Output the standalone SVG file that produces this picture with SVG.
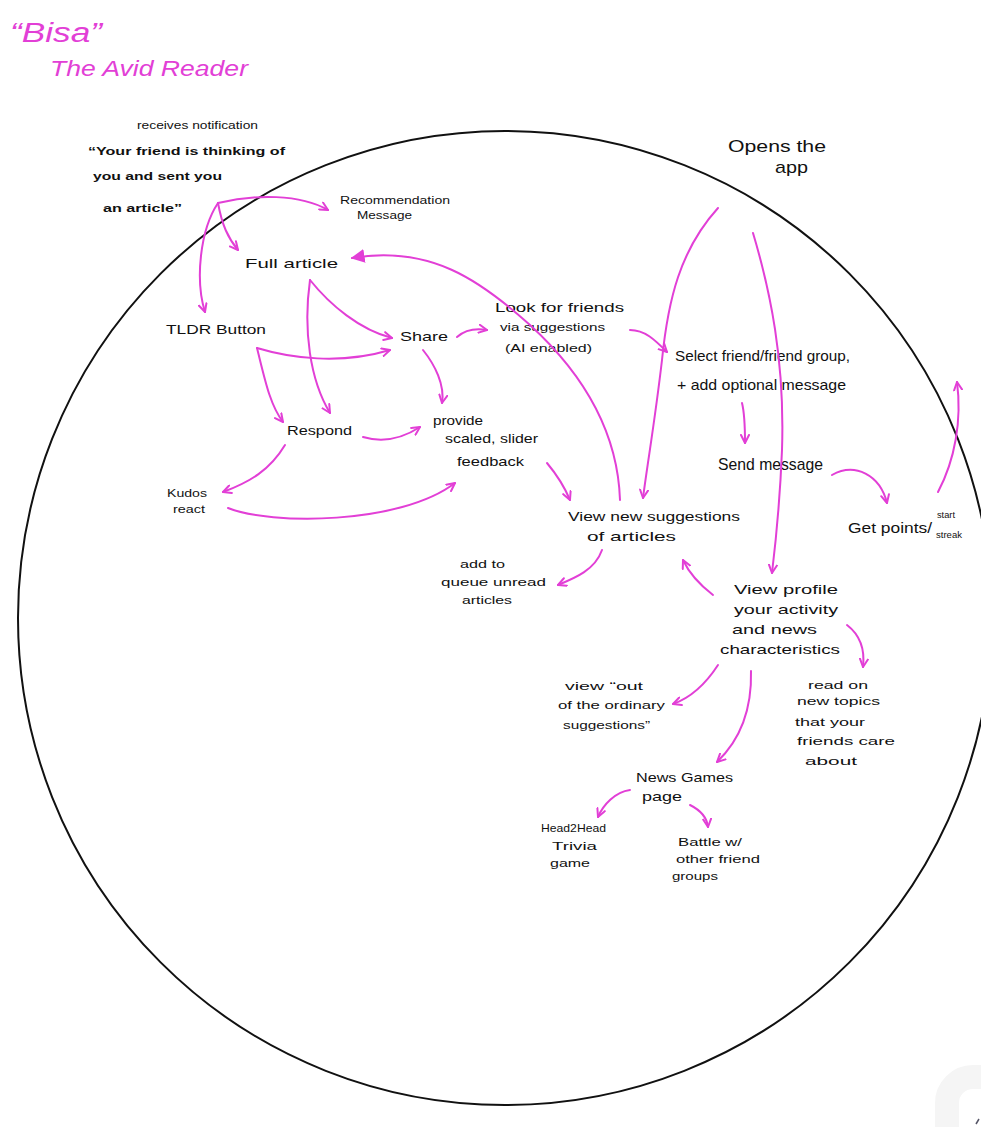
<svg xmlns="http://www.w3.org/2000/svg" width="981" height="1127" viewBox="0 0 981 1127">
<style>
text{font-family:"Liberation Sans","DejaVu Sans",sans-serif;fill:#111;}
.t{font-size:13px;}
.s{font-size:11px;}
.xs{font-size:9px;}
.m{font-size:15px;}
.l{font-size:17px;}
.pk{fill:#e23fd6;font-style:italic;}
.c path{fill:none;stroke:#e23fd6;stroke-width:2;stroke-linecap:round;marker-end:url(#a);}
.c path.big{marker-end:url(#f);}
</style>
<defs>
<marker id="a" viewBox="0 0 10 10" refX="9" refY="5" markerWidth="5" markerHeight="5" orient="auto" markerUnits="strokeWidth">
<path d="M1,1 L9,5 L1,9" fill="none" stroke="#e23fd6" stroke-width="2" stroke-linecap="round" stroke-linejoin="round"/>
</marker>
<marker id="f" viewBox="0 0 10 10" refX="9" refY="5" markerWidth="7" markerHeight="7" orient="auto" markerUnits="strokeWidth">
<path d="M0,0 L10,5 L0,10 Z" fill="#e23fd6"/>
</marker>
</defs>
<rect width="981" height="1127" fill="#fff"/>
<ellipse id="circle" cx="505" cy="618" rx="487" ry="487" fill="none" stroke="#111" stroke-width="2"/>
<rect x="947" y="1077" width="90" height="90" rx="26" fill="#fff" stroke="#f5f5f5" stroke-width="24"/>
<path d="M976,1124 L979,1119" stroke="#556" stroke-width="1.5" fill="none"/>
<g id="title">
<text class="pk" x="10" y="42" font-size="27" textLength="92" lengthAdjust="spacingAndGlyphs">“Bisa”</text>
<text class="pk" x="50" y="76" font-size="22" textLength="198" lengthAdjust="spacingAndGlyphs">The Avid Reader</text>
</g>
<g id="notification">
<text class="s" x="137" y="129" textLength="121" lengthAdjust="spacingAndGlyphs">receives notification</text>
<text class="s" x="88" y="155" font-weight="bold" textLength="197" lengthAdjust="spacingAndGlyphs">“Your friend is thinking of</text>
<text class="s" x="93" y="180" font-weight="bold" textLength="129" lengthAdjust="spacingAndGlyphs">you and sent you</text>
<text class="s" x="103" y="212" font-weight="bold" textLength="79" lengthAdjust="spacingAndGlyphs">an article”</text>
</g>
<g id="recommendation">
<text class="s" x="340" y="204" textLength="110" lengthAdjust="spacingAndGlyphs">Recommendation</text>
<text class="s" x="357" y="219" textLength="55" lengthAdjust="spacingAndGlyphs">Message</text>
</g>
<g id="full-article"><text class="t" x="245" y="268" textLength="93" lengthAdjust="spacingAndGlyphs">Full article</text></g>
<g id="tldr"><text class="t" x="166" y="334" textLength="100" lengthAdjust="spacingAndGlyphs">TLDR Button</text></g>
<g id="share"><text class="t" x="400" y="341" textLength="48" lengthAdjust="spacingAndGlyphs">Share</text></g>
<g id="look-friends">
<text class="t" x="495" y="312" textLength="129" lengthAdjust="spacingAndGlyphs">Look for friends</text>
<text class="s" x="500" y="331" textLength="105" lengthAdjust="spacingAndGlyphs">via suggestions</text>
<text class="s" x="505" y="352" textLength="87" lengthAdjust="spacingAndGlyphs">(AI enabled)</text>
</g>
<g id="respond"><text class="t" x="287" y="435" textLength="65" lengthAdjust="spacingAndGlyphs">Respond</text></g>
<g id="provide">
<text class="t" x="433" y="425" textLength="50" lengthAdjust="spacingAndGlyphs">provide</text>
<text class="t" x="445" y="443" textLength="93" lengthAdjust="spacingAndGlyphs">scaled, slider</text>
<text class="t" x="457" y="466" textLength="67" lengthAdjust="spacingAndGlyphs">feedback</text>
</g>
<g id="kudos">
<text class="s" x="167" y="497" textLength="40" lengthAdjust="spacingAndGlyphs">Kudos</text>
<text class="s" x="173" y="513" textLength="32" lengthAdjust="spacingAndGlyphs">react</text>
</g>
<g id="opens-app">
<text class="l" x="728" y="152" textLength="98" lengthAdjust="spacingAndGlyphs">Opens the</text>
<text class="l" x="775" y="173" textLength="33" lengthAdjust="spacingAndGlyphs">app</text>
</g>
<g id="select-friend">
<text class="m" x="675" y="361" textLength="175" lengthAdjust="spacingAndGlyphs">Select friend/friend group,</text>
<text class="m" x="677" y="390" textLength="169" lengthAdjust="spacingAndGlyphs">+ add optional message</text>
</g>
<g id="send-message"><text class="l" x="718" y="470" textLength="105" lengthAdjust="spacingAndGlyphs">Send message</text></g>
<g id="get-points">
<text class="m" x="848" y="533" textLength="84" lengthAdjust="spacingAndGlyphs">Get points/</text>
<text class="xs" x="937" y="518" textLength="18" lengthAdjust="spacingAndGlyphs">start</text>
<text class="xs" x="936" y="538" textLength="26" lengthAdjust="spacingAndGlyphs">streak</text>
</g>
<g id="view-suggestions">
<text class="t" x="568" y="521" textLength="172" lengthAdjust="spacingAndGlyphs">View new suggestions</text>
<text class="t" x="587" y="541" textLength="89" lengthAdjust="spacingAndGlyphs">of articles</text>
</g>
<g id="queue">
<text class="s" x="460" y="568" textLength="45" lengthAdjust="spacingAndGlyphs">add to</text>
<text class="s" x="441" y="586" textLength="105" lengthAdjust="spacingAndGlyphs">queue unread</text>
<text class="s" x="462" y="604" textLength="50" lengthAdjust="spacingAndGlyphs">articles</text>
</g>
<g id="view-profile">
<text class="t" x="734" y="594" textLength="104" lengthAdjust="spacingAndGlyphs">View profile</text>
<text class="t" x="734" y="614" textLength="104" lengthAdjust="spacingAndGlyphs">your activity</text>
<text class="t" x="732" y="634" textLength="85" lengthAdjust="spacingAndGlyphs">and news</text>
<text class="t" x="720" y="654" textLength="120" lengthAdjust="spacingAndGlyphs">characteristics</text>
</g>
<g id="out-of-ordinary">
<text class="s" x="565" y="690" textLength="78" lengthAdjust="spacingAndGlyphs">view “out</text>
<text class="s" x="558" y="709" textLength="107" lengthAdjust="spacingAndGlyphs">of the ordinary</text>
<text class="s" x="563" y="729" textLength="87" lengthAdjust="spacingAndGlyphs">suggestions”</text>
</g>
<g id="read-on">
<text class="s" x="808" y="689" textLength="60" lengthAdjust="spacingAndGlyphs">read on</text>
<text class="s" x="797" y="705" textLength="83" lengthAdjust="spacingAndGlyphs">new topics</text>
<text class="s" x="795" y="726" textLength="70" lengthAdjust="spacingAndGlyphs">that your</text>
<text class="s" x="797" y="745" textLength="98" lengthAdjust="spacingAndGlyphs">friends care</text>
<text class="s" x="805" y="765" textLength="52" lengthAdjust="spacingAndGlyphs">about</text>
</g>
<g id="news-games">
<text class="t" x="636" y="782" textLength="97" lengthAdjust="spacingAndGlyphs">News Games</text>
<text class="t" x="642" y="801" textLength="40" lengthAdjust="spacingAndGlyphs">page</text>
</g>
<g id="head2head">
<text class="s" x="541" y="832" textLength="65" lengthAdjust="spacingAndGlyphs">Head2Head</text>
<text class="s" x="552" y="850" textLength="45" lengthAdjust="spacingAndGlyphs">Trivia</text>
<text class="s" x="550" y="867" textLength="40" lengthAdjust="spacingAndGlyphs">game</text>
</g>
<g id="battle">
<text class="s" x="678" y="846" textLength="64" lengthAdjust="spacingAndGlyphs">Battle w/</text>
<text class="s" x="676" y="863" textLength="84" lengthAdjust="spacingAndGlyphs">other friend</text>
<text class="s" x="672" y="880" textLength="46" lengthAdjust="spacingAndGlyphs">groups</text>
</g>
<g id="connectors" class="c">
<path d="M218,203 C255,194 300,194 328,210"/>
<path d="M218,203 C222,225 228,238 238,250"/>
<path d="M218,203 C200,230 195,280 205,312"/>
<path class="big" d="M620,500 C618,440 590,380 530,325 C480,280 430,245 352,258"/>
<path d="M310,280 C330,305 360,330 392,338"/>
<path d="M310,280 C303,330 310,380 330,413"/>
<path d="M257,348 C290,358 340,365 390,350"/>
<path d="M257,348 C265,380 270,405 283,422"/>
<path d="M457,337 C465,330 475,328 487,330"/>
<path d="M423,350 C435,365 445,385 442,403"/>
<path d="M363,437 C380,442 400,440 420,427"/>
<path d="M285,445 C270,470 250,482 223,492"/>
<path d="M228,508 C270,525 400,525 455,483"/>
<path d="M547,463 C557,475 565,488 570,500"/>
<path d="M630,330 C645,330 655,340 667,352"/>
<path d="M718,208 C680,250 668,300 662,360 C655,420 648,460 643,498"/>
<path d="M753,233 C770,290 785,360 782,450 C780,500 776,540 772,573"/>
<path d="M742,403 C745,415 745,430 745,443"/>
<path d="M832,475 C855,462 880,475 887,503"/>
<path d="M938,492 C955,460 962,420 957,382"/>
<path d="M602,550 C595,570 575,578 558,585"/>
<path d="M713,595 C700,585 690,575 683,560"/>
<path d="M847,625 C860,635 865,650 863,667"/>
<path d="M718,665 C705,685 690,698 673,704"/>
<path d="M751,671 C752,710 740,740 717,762"/>
<path d="M630,790 C615,792 603,805 598,817"/>
<path d="M690,805 C700,810 707,818 708,827"/>
</g>
</svg>
